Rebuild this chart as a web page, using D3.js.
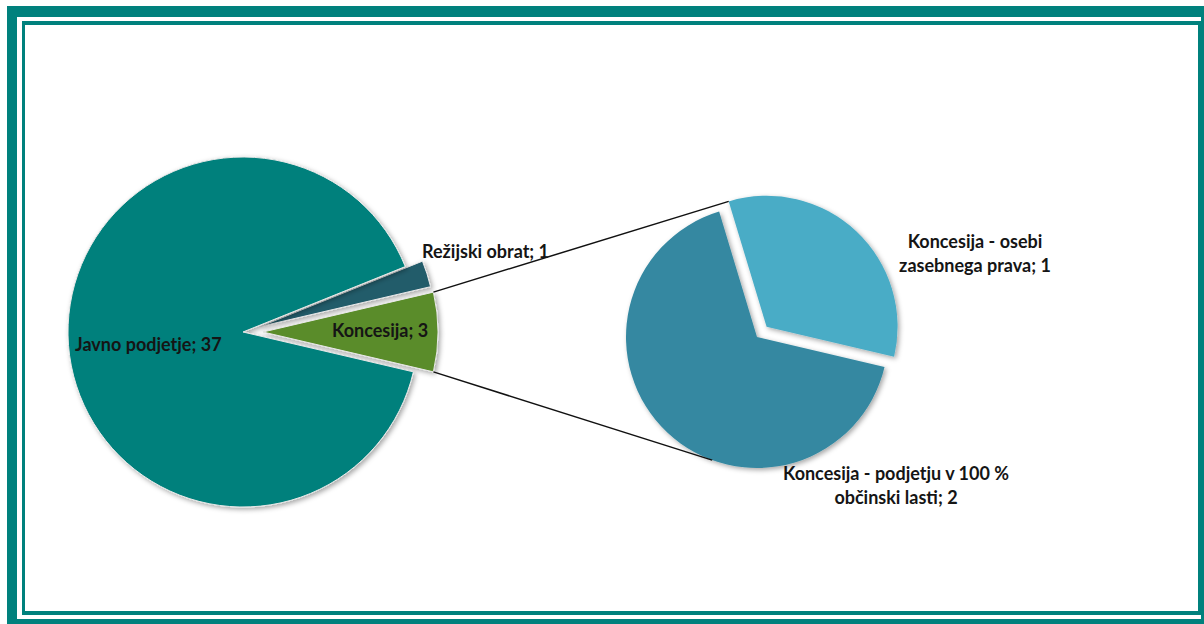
<!DOCTYPE html>
<html>
<head>
<meta charset="utf-8">
<script src="https://cdn.jsdelivr.net/npm/d3@7"></script>
<style>
  html, body { margin: 0; padding: 0; background: #ffffff; }
  svg { display: block; }
  text { font-family: Lato, "Open Sans", "Noto Sans", sans-serif; font-weight: 700; fill: #151515; }
</style>
</head>
<body>
<svg id="chart" width="1204" height="624"></svg>
<script>
// ---- data ----
const mainCategories = ["Režijski obrat", "Koncesija", "Javno podjetje"];
const mainValues = [1, 3, 37];
const mainColors = ["#245b6b", "#5a8c29", "#00807b"];

const subCategories = ["Koncesija - osebi zasebnega prava", "Koncesija - podjetju v 100 % občinski lasti"];
const subValues = [1, 2];
const subColors = ["#4aacc6", "#3488a1"];

const mainLabels = ["Režijski obrat; 1", "Koncesija; 3", "Javno podjetje; 37"];
const subLabels = [["Koncesija - osebi", "zasebnega prava; 1"], ["Koncesija - podjetju v 100 %", "občinski lasti; 2"]];

// ---- layout ----
const svg = d3.select("#chart");
const deg = Math.PI / 180;

// frame
svg.append("rect").attr("x", 7).attr("y", 6).attr("width", 1220).attr("height", 640).attr("fill", "#00817d");
svg.append("rect").attr("x", 17).attr("y", 17).attr("width", 1184).attr("height", 602).attr("fill", "#ffffff");
svg.append("rect").attr("x", 22).attr("y", 21).attr("width", 1179).attr("height", 594).attr("fill", "#00817d");
svg.append("rect").attr("x", 25).attr("y", 25).attr("width", 1173).attr("height", 586).attr("fill", "#ffffff");

const defs = svg.append("defs");
const f = defs.append("filter").attr("id", "shadow").attr("x", "-20%").attr("y", "-20%").attr("width", "140%").attr("height", "140%");
f.append("feDropShadow").attr("dx", 2).attr("dy", 2).attr("stdDeviation", 2.5)
  .attr("flood-color", "#000").attr("flood-opacity", 0.35);

// ---- main pie ----
const mainCx = 243, mainCy = 332, mainR = 175;
const total = d3.sum(mainValues);
const konIdx = 1;
const before = d3.sum(mainValues.slice(0, konIdx));
const mainStart = Math.PI / 2 - (before + mainValues[konIdx] / 2) / total * 2 * Math.PI;
const mainPie = d3.pie().sort(null).value(d => d).startAngle(mainStart).endAngle(mainStart + 2 * Math.PI);
const mainArcs = mainPie(mainValues);
const mainArc = d3.arc().innerRadius(0).outerRadius(mainR);
const explode = [18, 20, 0];

function offset(a, d) {
  const mid = (a.startAngle + a.endAngle) / 2;
  return [Math.sin(mid) * d, -Math.cos(mid) * d];
}

const gMain = svg.append("g").attr("transform", `translate(${mainCx},${mainCy})`);
gMain.selectAll("path").data(mainArcs).join("path")
  .attr("d", mainArc)
  .attr("transform", (a, i) => { const o = offset(a, explode[i]); return `translate(${o[0]},${o[1]})`; })
  .attr("fill", (a, i) => mainColors[i])
  .attr("stroke", "#e8e8e8").attr("stroke-width", 1)
  .attr("filter", "url(#shadow)");

// ---- secondary pie ----
const subCx = 757, subCy = 337, subR = 131;
const subStart = -16.8 * deg;
const subPie = d3.pie().sort(null).value(d => d).startAngle(subStart).endAngle(subStart + 2 * Math.PI);
const subArcs = subPie(subValues);
const subArc = d3.arc().innerRadius(0).outerRadius(subR);
const subExplode = [14, 0];

const gSub = svg.append("g").attr("transform", `translate(${subCx},${subCy})`);
gSub.selectAll("path").data(subArcs).join("path")
  .attr("d", subArc)
  .attr("transform", (a, i) => { const o = offset(a, subExplode[i]); return `translate(${o[0]},${o[1]})`; })
  .attr("fill", (a, i) => subColors[i])
  .attr("filter", "url(#shadow)");

// ---- connector lines ----
function pointOn(cx, cy, r, ang, off) {
  return [cx + off[0] + Math.sin(ang) * r, cy + off[1] - Math.cos(ang) * r];
}
const kon = mainArcs[konIdx];
const konOff = offset(kon, explode[konIdx]);
const p1 = pointOn(mainCx, mainCy, mainR, kon.startAngle, konOff);
const p2 = pointOn(mainCx, mainCy, mainR, kon.endAngle, konOff);
const light = subArcs[0];
const q1 = pointOn(subCx, subCy, subR, light.startAngle, offset(light, subExplode[0]));
const q2 = pointOn(subCx, subCy, subR, 200 * deg, [0, 0]);
const line = d3.line();
svg.append("path").attr("d", line([p1, q1])).attr("stroke", "#111").attr("stroke-width", 1.5).attr("fill", "none");
svg.append("path").attr("d", line([p2, q2])).attr("stroke", "#111").attr("stroke-width", 1.5).attr("fill", "none");

// ---- labels ----
const fs = 18;
const mainLabelPos = [[422, 258, "start"], [332, 337, "start"], [75, 351, "start"]];
mainLabels.forEach((t, i) => {
  svg.append("text").attr("x", mainLabelPos[i][0]).attr("y", mainLabelPos[i][1])
    .attr("text-anchor", mainLabelPos[i][2]).attr("font-size", fs).text(t);
});
const subLabelPos = [[975, 248], [896, 480]];
subLabels.forEach((lines, i) => {
  lines.forEach((t, j) => {
    svg.append("text").attr("x", subLabelPos[i][0]).attr("y", subLabelPos[i][1] + j * 24)
      .attr("text-anchor", "middle").attr("font-size", fs).text(t);
  });
});
</script>
</body>
</html>
